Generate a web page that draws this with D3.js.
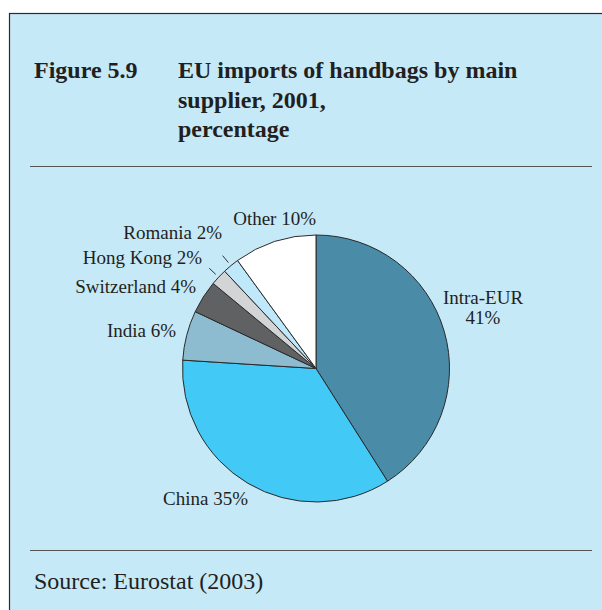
<!DOCTYPE html>
<html>
<head>
<meta charset="utf-8">
<script src="https://cdn.jsdelivr.net/npm/d3@7"></script>
<style>
  html, body { margin: 0; padding: 0; background: #ffffff; }
  svg { display: block; }
  text { font-family: "Liberation Serif", "Times New Roman", serif; fill: #231f20; }
</style>
</head>
<body>
<svg id="chart" width="602" height="610"></svg>
<script>
// EU imports of handbags by main supplier, 2001 (percentage)
const suppliers = ["Intra-EUR", "China", "India", "Switzerland", "Hong Kong", "Romania", "Other"];
const shares    = [41, 35, 6, 4, 2, 2, 10];
const sliceColors = ["#4a8ba8", "#43c9f6", "#8dbcd1", "#5f6163", "#d3d4d6", "#bfe8fa", "#ffffff"];

const titleLines = ["EU imports of handbags by main", "supplier, 2001,", "percentage"];
const figureLabel = "Figure 5.9";
const sourceText = "Source: Eurostat (2003)";

const svg = d3.select("#chart");
const W = 602, H = 610;

// panel
svg.append("rect")
  .attr("x", 9.5).attr("y", 13.5)
  .attr("width", W + 10).attr("height", H + 10)
  .attr("fill", "#c6e9f8")
  .attr("stroke", "#2b2b2b").attr("stroke-width", 1.2);

// heading
svg.append("text")
  .attr("x", 34).attr("y", 78)
  .attr("font-size", 24).attr("font-weight", "bold")
  .text(figureLabel);

svg.append("g").selectAll("text")
  .data(titleLines)
  .join("text")
  .attr("x", 178)
  .attr("y", (d, i) => 78 + i * 29.5)
  .attr("font-size", 24).attr("font-weight", "bold")
  .text(d => d);

// rules
[166, 550].forEach(y => {
  svg.append("line")
    .attr("x1", 30).attr("x2", 592)
    .attr("y1", y + 0.5).attr("y2", y + 0.5)
    .attr("stroke", "#555").attr("stroke-width", 1.2);
});

// source
svg.append("text")
  .attr("x", 34).attr("y", 589)
  .attr("font-size", 24)
  .text(sourceText);

// pie
const cx = 316, cy = 368.5, R = 133.5;
const data = suppliers.map((s, i) => ({ name: s, value: shares[i], color: sliceColors[i] }));

const pie = d3.pie().value(d => d.value).sort(null);
const arc = d3.arc().innerRadius(0).outerRadius(R);
const arcs = pie(data);

const g = svg.append("g").attr("transform", `translate(${cx},${cy})`);
g.selectAll("path")
  .data(arcs)
  .join("path")
  .attr("d", arc)
  .attr("fill", d => d.data.color)
  .attr("stroke", "#2a2a2a")
  .attr("stroke-width", 1)
  .attr("stroke-linejoin", "round");

// leader ticks for the two thin slices
arcs.filter(d => d.data.name === "Hong Kong" || d.data.name === "Romania").forEach(d => {
  const mid = (d.startAngle + d.endAngle) / 2;
  const p = r => [r * Math.sin(mid), -r * Math.cos(mid)];
  const a = p(R + 4), b = p(R + 13);
  g.append("line")
    .attr("x1", a[0]).attr("y1", a[1])
    .attr("x2", b[0]).attr("y2", b[1])
    .attr("stroke", "#333").attr("stroke-width", 1);
});

// slice labels: anchor placement per supplier
const labelPlacement = {
  "Intra-EUR":  { x: 483, y: 304, anchor: "middle", split: true },
  "China":      { x: 163, y: 505, anchor: "start" },
  "India":      { x: 176, y: 337, anchor: "end" },
  "Switzerland":{ x: 196, y: 293, anchor: "end" },
  "Hong Kong":  { x: 202, y: 264, anchor: "end" },
  "Romania":    { x: 222, y: 239, anchor: "end" },
  "Other":      { x: 316, y: 225, anchor: "end" }
};

const labels = svg.append("g").attr("font-size", 19);
data.forEach(d => {
  const p = labelPlacement[d.name];
  const t = labels.append("text")
    .attr("x", p.x).attr("y", p.y)
    .attr("text-anchor", p.anchor);
  if (p.split) {
    t.append("tspan").attr("x", p.x).text(d.name);
    t.append("tspan").attr("x", p.x).attr("dy", 19.5).text(d.value + "%");
  } else {
    t.text(`${d.name} ${d.value}%`);
  }
});
</script>
</body>
</html>
